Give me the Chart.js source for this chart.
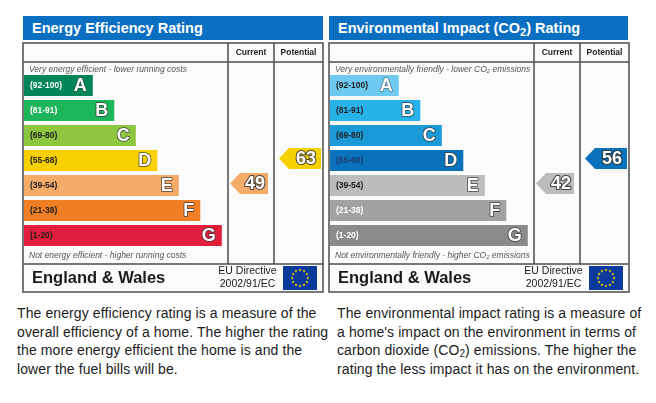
<!DOCTYPE html>
<html>
<head>
<meta charset="utf-8">
<script src="https://cdn.jsdelivr.net/npm/chart.js@4.4.1/dist/chart.umd.min.js"></script>
<style>
  body { margin: 0; background: #fff; font-family: "Liberation Sans", Arial, sans-serif; }
  #page { position: relative; width: 656px; height: 403px; overflow: hidden; }
  .title {
    position: absolute; top: 16px; height: 24px; line-height: 24px;
    background: #0b6fc1; color: #fff; font-weight: bold; font-size: 14.5px;
    padding-left: 9px; box-sizing: border-box; white-space: nowrap;
  }
  .title sub { font-size: 11px; vertical-align: -3px; line-height: 0; }
  canvas { position: absolute; top: 42px; }
  .note {
    position: absolute; top: 304px; font-size: 14px; line-height: 18.5px;
    letter-spacing: 0.1px; color: #1c1c1c; white-space: nowrap;
  }
  .note sub { font-size: 10px; vertical-align: -2px; line-height: 0; }
</style>
</head>
<body>
<div id="page">
  <div class="title" style="left:23px;width:300px">Energy Efficiency Rating</div>
  <div class="title" style="left:329px;width:299px">Environmental Impact (CO<sub>2</sub>) Rating</div>
  <canvas id="energyChart" width="303" height="252" style="left:22px"></canvas>
  <canvas id="co2Chart" width="303" height="252" style="left:328px"></canvas>
  <div class="note" style="left:17px">The energy efficiency rating is a measure of the<br>overall efficiency of a home. The higher the rating<br>the more energy efficient the home is and the<br>lower the fuel bills will be.</div>
  <div class="note" style="left:337px">The environmental impact rating is a measure of<br>a home's impact on the environment in terms of<br>carbon dioxide (CO<sub>2</sub>) emissions. The higher the<br>rating the less impact it has on the environment.</div>
</div>
<script>
// Rating bands
const bandLetters = ['A', 'B', 'C', 'D', 'E', 'F', 'G'];
const bandRanges = ['(92-100)', '(81-91)', '(69-80)', '(55-68)', '(39-54)', '(21-38)', '(1-20)'];
const bandMin = [92, 81, 69, 55, 39, 21, 1];
const bandLength = [32, 42, 52, 62, 72, 82, 92];

// Ratings: [current, potential]
const energyRatings = [49, 63];
const co2Ratings = [42, 56];

// Colours
const energyColours = ['#00845a', '#1db55a', '#8dc63f', '#f7d000', '#f6ab69', '#ef7f22', '#e31d3c'];
const energyLabelColours = ['#fff', '#fff', '#222', '#222', '#222', '#222', '#222'];
const co2Colours = ['#6dc9f0', '#27b3ea', '#1a9ad6', '#0a71bb', '#bcbcbc', '#a2a2a2', '#8b8b8b'];
const co2LabelColours = ['#222', '#222', '#222', '#1b3f70', '#222', '#fff', '#fff'];

const FONT = '"Liberation Sans", Arial, sans-serif';

function drawParts(ctx, parts, x, y, size) {
    // parts: [text, isSubscript]
    parts.forEach(([text, sub]) => {
        ctx.font = 'italic ' + (sub ? size * 0.7 : size) + 'px ' + FONT;
        ctx.fillText(text, x, sub ? y + 2 : y);
        x += ctx.measureText(text).width;
    });
}

function outlinedText(ctx, text, x, y, font, lw) {
    ctx.font = font;
    ctx.lineJoin = 'round';
    ctx.lineWidth = lw;
    ctx.strokeStyle = 'rgba(50,50,50,0.85)';
    ctx.strokeText(text, x, y);
    ctx.fillStyle = '#fff';
    ctx.fillText(text, x, y);
}

function drawFlag(ctx, x, y, w, h) {
    ctx.fillStyle = '#0b3a9a';
    ctx.fillRect(x, y, w, h);
    const cx = x + w / 2, cy = y + h / 2;
    ctx.fillStyle = '#ffd200';
    for (let i = 0; i < 12; i++) {
        const a = i * Math.PI / 6;
        const sx = cx + Math.cos(a) * 8, sy = cy + Math.sin(a) * 8;
        ctx.beginPath();
        for (let k = 0; k < 10; k++) {
            const r = k % 2 ? 0.7 : 1.7;
            const b = -Math.PI / 2 + k * Math.PI / 5;
            ctx.lineTo(sx + Math.cos(b) * r, sy + Math.sin(b) * r);
        }
        ctx.closePath();
        ctx.fill();
    }
}

const epcPanel = {
    id: 'epcPanel',
    beforeDatasetsDraw(chart, args, o) {
        const ctx = chart.ctx;
        ctx.save();
        ctx.fillStyle = '#fbfbfb';
        ctx.fillRect(1, 1, 300, 249);
        ctx.strokeStyle = '#4d4d4d';
        ctx.lineWidth = 1.5;
        ctx.strokeRect(1, 1, 300, 249);
        ctx.beginPath();
        ctx.moveTo(1, 20); ctx.lineTo(301, 20);
        ctx.moveTo(1, 222); ctx.lineTo(301, 222);
        ctx.moveTo(206, 1); ctx.lineTo(206, 222);
        ctx.moveTo(252, 1); ctx.lineTo(252, 222);
        ctx.stroke();

        ctx.fillStyle = '#222';
        ctx.textAlign = 'center';
        ctx.textBaseline = 'middle';
        ctx.font = 'bold 8.5px ' + FONT;
        ctx.fillText('Current', 229, 10.5);
        ctx.fillText('Potential', 276.5, 10.5);

        ctx.textAlign = 'left';
        ctx.fillStyle = '#555';
        drawParts(ctx, o.captionTop, 7, 27.5, 8.5);
        drawParts(ctx, o.captionBottom, 7, 213.5, 8.5);

        ctx.fillStyle = '#1a1a1a';
        ctx.font = 'bold 16.5px ' + FONT;
        ctx.fillText('England & Wales', 10, 236.5);
        ctx.textAlign = 'center';
        ctx.font = '10.5px ' + FONT;
        ctx.fillText('EU Directive', 225.5, 229.5);
        ctx.fillText('2002/91/EC', 225.5, 242);
        drawFlag(ctx, 261, 224, 34, 24);
        ctx.restore();
    },
    afterDatasetsDraw(chart, args, o) {
        const ctx = chart.ctx;
        const bars = chart.getDatasetMeta(0).data;
        ctx.save();
        ctx.textBaseline = 'middle';
        bars.forEach((bar, i) => {
            ctx.textAlign = 'left';
            ctx.fillStyle = o.labelColours[i];
            ctx.font = 'bold 8.5px ' + FONT;
            ctx.fillText(bandRanges[i], 8, bar.y + 0.5);
            ctx.textAlign = 'right';
            outlinedText(ctx, bandLetters[i], bar.x - 6, bar.y + 1, 'bold 18px ' + FONT, i === 0 ? 0 : 1.6);
        });

        // Rating arrows, placed on the band that holds the value
        const yScale = chart.scales.y;
        const cols = [{ tip: 208, right: 246 }, { tip: 257, right: 299 }];
        o.ratings.forEach((value, k) => {
            const band = bandMin.findIndex(m => value >= m);
            const y = yScale.getPixelForValue(band) - 2;
            const c = cols[k];
            const h = 21;
            ctx.fillStyle = o.colours[band];
            ctx.beginPath();
            ctx.moveTo(c.tip, y);
            ctx.lineTo(c.tip + 10, y - h / 2);
            ctx.lineTo(c.right, y - h / 2);
            ctx.lineTo(c.right, y + h / 2);
            ctx.lineTo(c.tip + 10, y + h / 2);
            ctx.closePath();
            ctx.fill();
            ctx.textAlign = 'center';
            outlinedText(ctx, String(value), (c.tip + 10 + c.right) / 2 + 1, y + 1, 'bold 18px ' + FONT, 2.2);
        });
        ctx.restore();
    }
};

function makePanel(id, colours, labelColours, ratings, captionTop, captionBottom) {
    return new Chart(document.getElementById(id), {
        type: 'bar',
        data: {
            labels: bandLetters,
            datasets: [{
                data: bandLength,
                backgroundColor: colours,
                borderWidth: 0,
                categoryPercentage: 1,
                barPercentage: 0.84
            }]
        },
        options: {
            indexAxis: 'y',
            responsive: false,
            animation: false,
            devicePixelRatio: 1,
            layout: { padding: { left: 2, right: 86, top: 31, bottom: 46 } },
            scales: {
                x: { display: false, min: 0, max: 100 },
                y: { display: false }
            },
            plugins: {
                legend: { display: false },
                tooltip: { enabled: false },
                epcPanel: { colours, labelColours, ratings, captionTop, captionBottom }
            }
        },
        plugins: [epcPanel]
    });
}

makePanel('energyChart', energyColours, energyLabelColours, energyRatings,
    [['Very energy efficient - lower running costs']],
    [['Not energy efficient - higher running costs']]);

makePanel('co2Chart', co2Colours, co2LabelColours, co2Ratings,
    [['Very environmentally friendly - lower CO'], ['2', true], [' emissions']],
    [['Not environmentally friendly - higher CO'], ['2', true], [' emissions']]);
</script>
</body>
</html>
